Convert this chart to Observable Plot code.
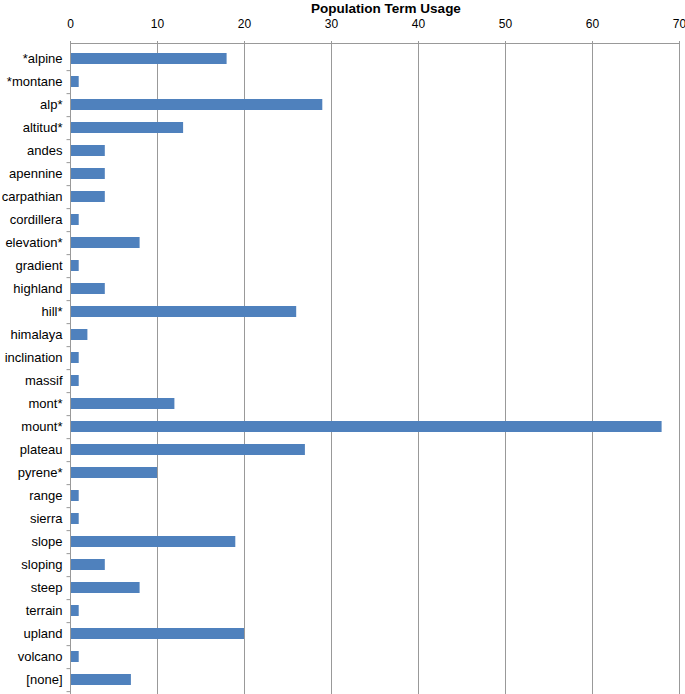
<!DOCTYPE html>
<html>
<head>
<meta charset="utf-8">
<script src="https://cdn.jsdelivr.net/npm/d3@7"></script>
<script src="https://cdn.jsdelivr.net/npm/@observablehq/plot@0.6"></script>
<style>
  body { margin: 0; background: #fff; }
  #title { width: 685px; box-sizing: border-box; padding-left: 87px; text-align: center;
           font: bold 13.5px "Liberation Sans", Arial, sans-serif; height: 14px; line-height: 17px; color: #000; }
  svg { overflow: visible; }
</style>
</head>
<body>
<div id="title">Population Term Usage</div>
<div id="chart"></div>
<script>
const terms = ["*alpine","*montane","alp*","altitud*","andes","apennine","carpathian","cordillera","elevation*","gradient","highland","hill*","himalaya","inclination","massif","mont*","mount*","plateau","pyrene*","range","sierra","slope","sloping","steep","terrain","upland","volcano","[none]"];
const counts = [18,1,29,13,4,4,4,1,8,1,4,26,2,1,1,12,68,27,10,1,1,19,4,8,1,20,1,7];
const xTicks = [0,10,20,30,40,50,60,70];

const data = terms.map((t, i) => ({term: t, count: counts[i]}));
const H = 680, MT = 29, MB = 0;
const step = (H - MT - MB) / terms.length;

const chart = Plot.plot({
  width: 685,
  height: H,
  marginTop: MT,
  marginBottom: MB,
  marginLeft: 70,
  marginRight: 6,
  style: {fontFamily: "'Liberation Sans', Arial, sans-serif", fontSize: "13px", color: "#000", background: "#fff", overflow: "visible"},
  x: {domain: [0, 70]},
  y: {domain: terms, paddingInner: 0.54, paddingOuter: 0.27},
  marks: [
    Plot.gridX(xTicks, {stroke: "#999", strokeOpacity: 1}),
    Plot.barX(data, {y: "term", x: "count", fill: "#4f81bd"}),
    Plot.frame({anchor: "top", stroke: "#999"}),
    Plot.ruleX([0], {stroke: "#999"}),
    Plot.ruleY(terms, {y: d => d, x1: -0.4, x2: 0, dy: step / 2, stroke: "#999"}),
    Plot.axisX(xTicks, {anchor: "top", label: null, tickSize: 3, stroke: "#999", text: null}),
    Plot.axisX(xTicks, {anchor: "top", label: null, tickSize: 0, tickPadding: 16, fontSize: 12, tickFormat: d => d}),
    Plot.axisY({anchor: "left", label: null, tickSize: 0, tickPadding: 8, fontSize: 13})
  ]
});
document.getElementById("chart").appendChild(chart);
</script>
</body>
</html>
